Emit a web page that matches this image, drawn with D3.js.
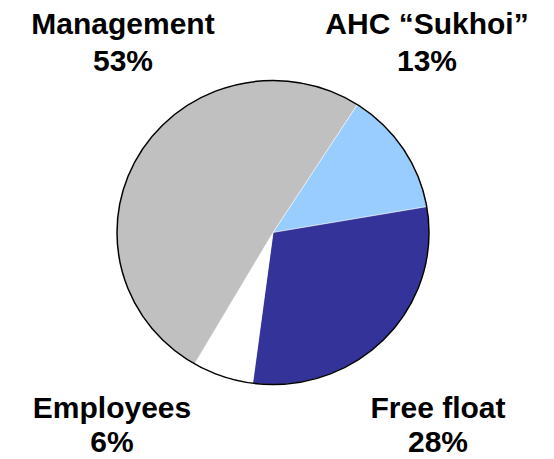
<!DOCTYPE html>
<html>
<head>
<meta charset="utf-8">
<script src="https://cdn.jsdelivr.net/npm/d3@7"></script>
<style>
	html, body { margin: 0; padding: 0; background: #fff; }
	text { font-family: "Liberation Sans", Arial, sans-serif; font-weight: bold; fill: #000; }
</style>
</head>
<body>
<svg id="chart" width="554" height="459"></svg>
<script>
// shareholders, clockwise from the top-right slice
const holders = ['AHC \u201cSukhoi\u201d', 'Free float', 'Employees', 'Management'];
// slice sizes as they are drawn in the picture
const shares = [13.2, 29.8, 6.3, 50.7];
// percentages printed under the names
const pctLabels = ['13%', '28%', '6%', '53%'];
const colors = ['#99CCFF', '#333399', '#FFFFFF', '#C0C0C0'];

const svg = d3.select('#chart');
const [cx, cy] = [273, 232.5];
const [rx, ry] = [156, 152];

// the original pie is slightly wider than tall
const pieG = svg.append('g').attr('transform', `translate(${cx},${cy}) scale(${rx / ry},1)`);

const startAngle = (32.7 * Math.PI) / 180;
const pie = d3
	.pie()
	.sort(null)
	.startAngle(startAngle)
	.endAngle(startAngle + 2 * Math.PI);
const arc = d3.arc().innerRadius(0).outerRadius(ry);

pieG
	.selectAll('path.slice')
	.data(pie(shares))
	.join('path')
	.attr('class', 'slice')
	.attr('d', arc)
	.attr('fill', (d, i) => colors[i])
	.attr('stroke', '#fff')
	.attr('stroke-width', 0.5);

// black rim round the pie
svg.append('ellipse')
	.attr('cx', cx)
	.attr('cy', cy)
	.attr('rx', rx)
	.attr('ry', ry)
	.attr('fill', 'none')
	.attr('stroke', '#000')
	.attr('stroke-width', 1.5);

// label anchors (centre x, first baseline y, second baseline y)
const labelPos = [
	[427, 34, 71],
	[438, 418, 452],
	[112, 418, 452],
	[123, 34, 71]
];

const labels = svg
	.selectAll('g.label')
	.data(holders)
	.join('g')
	.attr('class', 'label')
	.attr('transform', (d, i) => `translate(${labelPos[i][0]},0)`);

labels
	.append('text')
	.attr('text-anchor', 'middle')
	.attr('y', (d, i) => labelPos[i][1])
	.style('font-size', '30px')
	.text(d => d);
labels
	.append('text')
	.attr('text-anchor', 'middle')
	.attr('y', (d, i) => labelPos[i][2])
	.style('font-size', '30px')
	.text((d, i) => pctLabels[i]);
</script>
</body>
</html>
